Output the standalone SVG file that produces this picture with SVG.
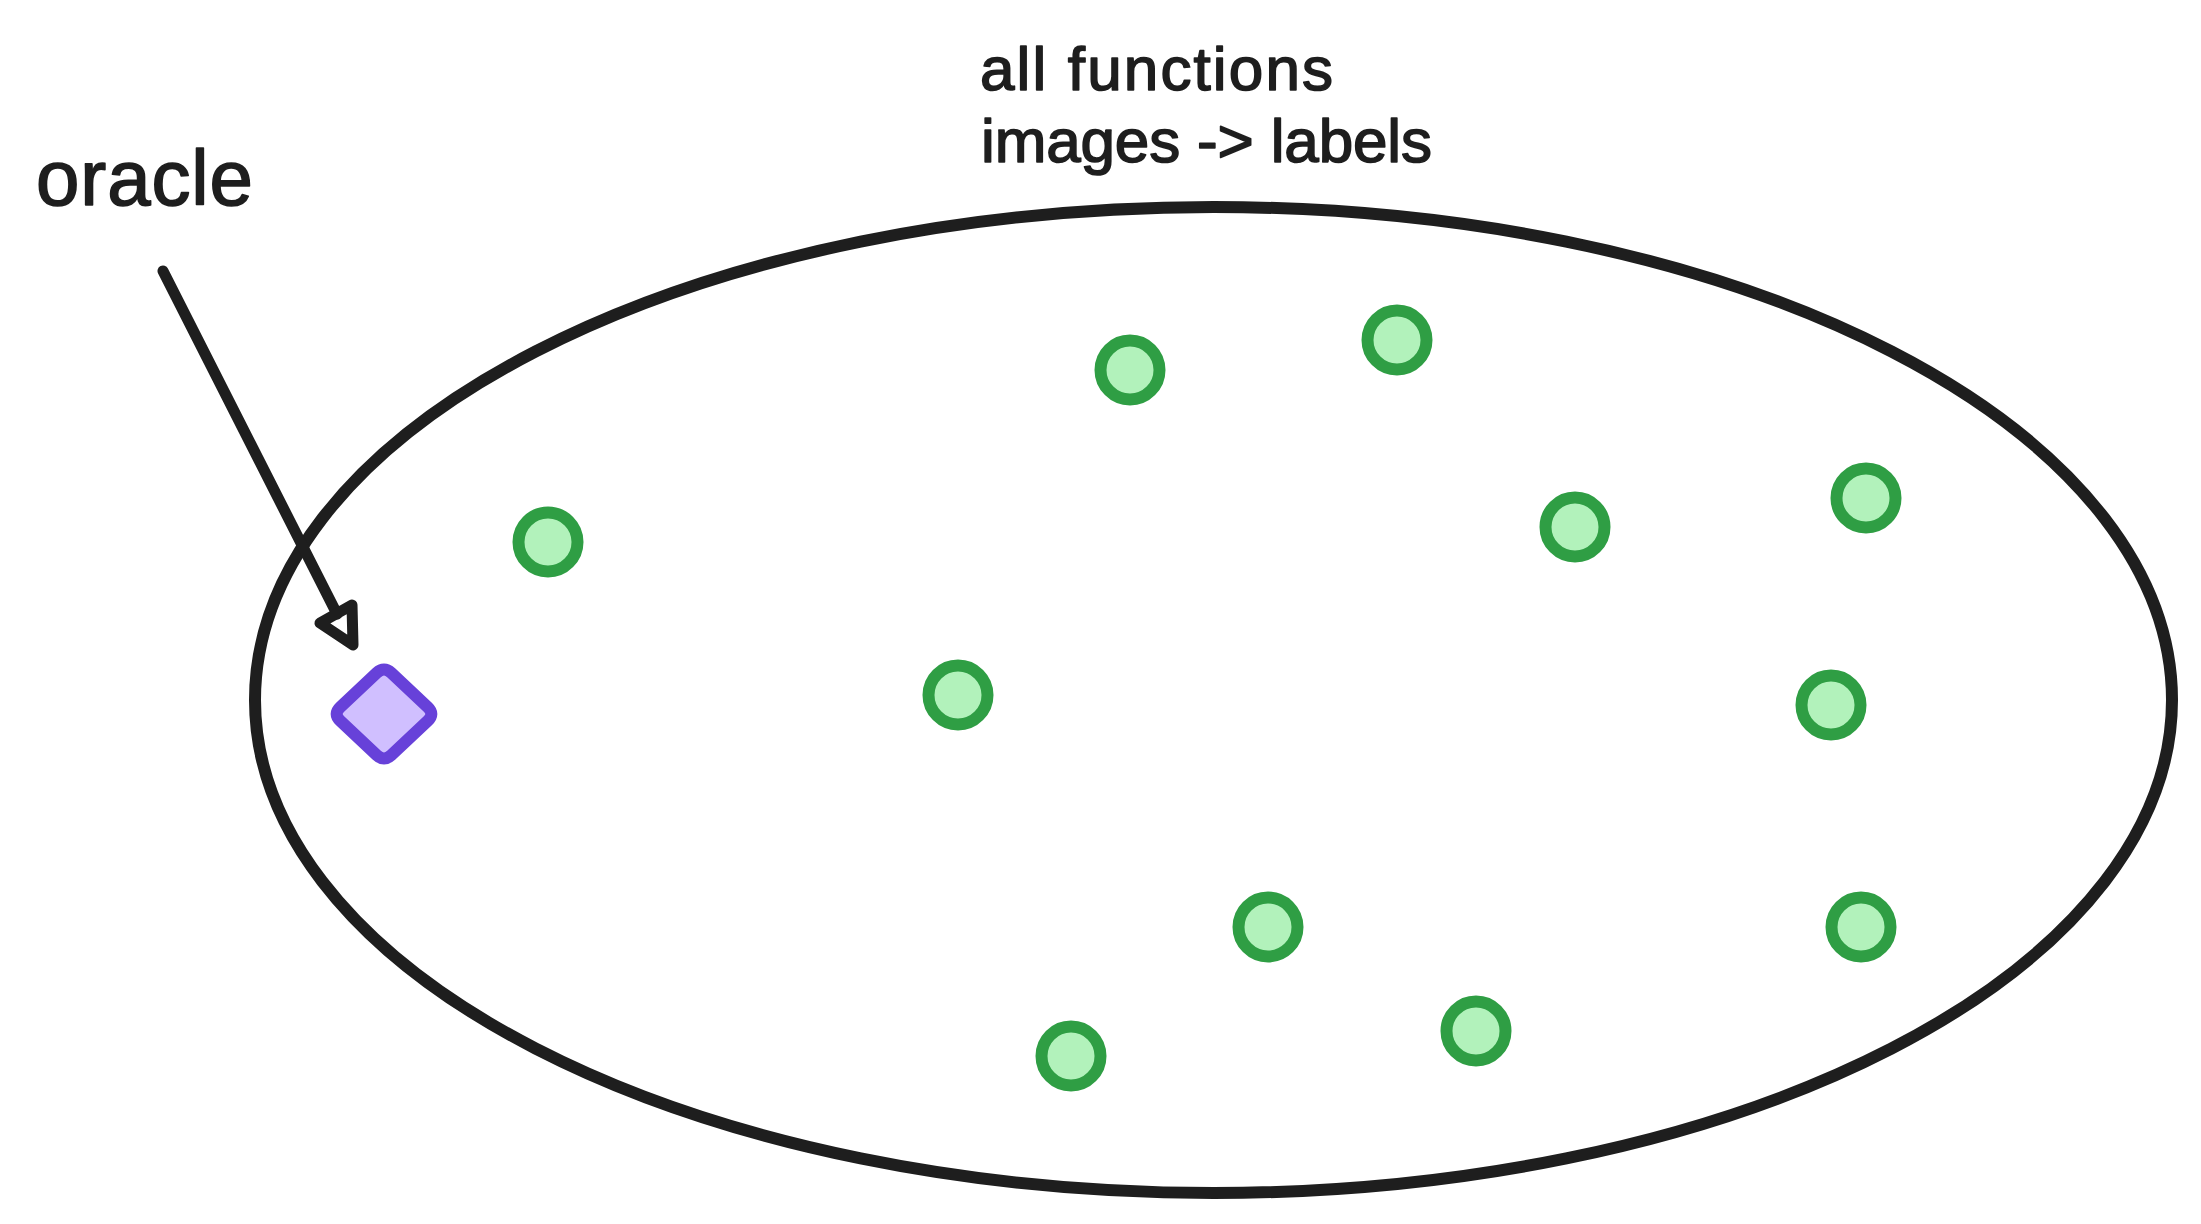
<svg xmlns="http://www.w3.org/2000/svg" width="2201" height="1224" viewBox="0 0 2201 1224">
  <style>
    .txt { font-family: "Liberation Sans", Arial, sans-serif; fill: #1e1e1e; stroke: #1e1e1e; stroke-width: 1.6; stroke-linejoin: round; }
    .dot { fill: #b2f2bb; stroke: #2f9e44; stroke-width: 12; }
    .ink { fill: none; stroke: #1e1e1e; stroke-linecap: round; stroke-linejoin: round; }
  </style>
  <rect width="2201" height="1224" fill="#ffffff"/>

  <g id="all-functions">
    <ellipse cx="1213.5" cy="700" rx="958.5" ry="493" fill="none" stroke="#1e1e1e" stroke-width="12"/>
  </g>

  <g id="title-label">
    <text class="txt" x="980" y="90" font-size="62" textLength="353" lengthAdjust="spacing">all functions</text>
    <text class="txt" x="981" y="162" font-size="62" textLength="451" lengthAdjust="spacing">images -&gt; labels</text>
  </g>

  <g id="oracle-label">
    <text class="txt" x="36" y="205" font-size="78" textLength="217" lengthAdjust="spacing">oracle</text>
  </g>

  <g id="oracle">
    <path d="M376.7,672.9 Q384,666 391.3,672.9 L427.7,707.1 Q435,714 427.7,720.9 L391.3,755.1 Q384,762 376.7,755.1 L340.3,720.9 Q333,714 340.3,707.1 Z" fill="#d0bfff" stroke="#6741d9" stroke-width="12" stroke-linejoin="round"/>
  </g>

  <g id="points">
    <circle id="p1" class="dot" cx="548" cy="542" r="29.5"/>
    <circle id="p2" class="dot" cx="1130" cy="370" r="29.5"/>
    <circle id="p3" class="dot" cx="1397" cy="340" r="29.5"/>
    <circle id="p4" class="dot" cx="1575" cy="527" r="29.5"/>
    <circle id="p5" class="dot" cx="1866" cy="498" r="29.5"/>
    <circle id="p6" class="dot" cx="958" cy="695" r="29.5"/>
    <circle id="p7" class="dot" cx="1831" cy="705" r="29.5"/>
    <circle id="p8" class="dot" cx="1268" cy="927" r="29.5"/>
    <circle id="p9" class="dot" cx="1861" cy="927" r="29.5"/>
    <circle id="p10" class="dot" cx="1476" cy="1031" r="29.5"/>
    <circle id="p11" class="dot" cx="1071" cy="1056" r="29.5"/>
  </g>

  <g id="connectors">
    <g id="arrow-oracle">
      <path class="ink" stroke-width="11" d="M163,271 L337,614"/>
      <path class="ink" stroke-width="11" d="M352,605 L320,623 L353,645 Z"/>
    </g>
  </g>
</svg>
